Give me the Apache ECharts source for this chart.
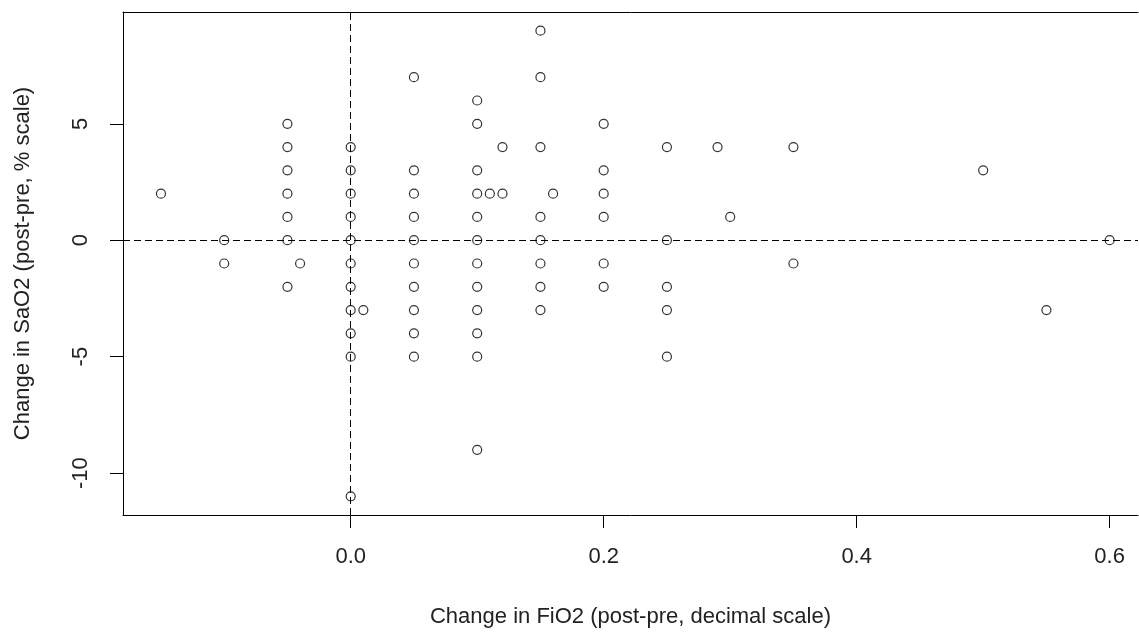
<!DOCTYPE html>
<html>
<head>
<meta charset="utf-8">
<script src="https://cdn.jsdelivr.net/npm/echarts@6/dist/echarts.min.js"></script>
<style>
html,body{margin:0;padding:0;background:#fff;}
#chart{width:1139px;height:634px;}
</style>
</head>
<body>
<div id="chart"></div>
<script>
// Change in FiO2 (post - pre, decimal scale)
const fio2Change = [
  -0.15,
  -0.1, -0.1,
  -0.05, -0.05, -0.05, -0.05, -0.05, -0.05, -0.05,
  -0.04,
  0, 0, 0, 0, 0, 0, 0, 0, 0, 0, 0,
  0.01,
  0.05, 0.05, 0.05, 0.05, 0.05, 0.05, 0.05, 0.05, 0.05, 0.05,
  0.1, 0.1, 0.1, 0.1, 0.1, 0.1, 0.1, 0.1, 0.1, 0.1, 0.1, 0.1,
  0.11,
  0.12, 0.12,
  0.15, 0.15, 0.15, 0.15, 0.15, 0.15, 0.15, 0.15,
  0.16,
  0.2, 0.2, 0.2, 0.2, 0.2, 0.2,
  0.25, 0.25, 0.25, 0.25, 0.25,
  0.29,
  0.3,
  0.35, 0.35,
  0.5,
  0.55,
  0.6
];
// Change in SaO2 (post - pre, % scale)
const sao2Change = [
  2,
  0, -1,
  5, 4, 3, 2, 1, 0, -2,
  -1,
  4, 3, 2, 1, 0, -1, -2, -3, -4, -5, -11,
  -3,
  7, 3, 2, 1, 0, -1, -2, -3, -4, -5,
  6, 5, 3, 2, 1, 0, -1, -2, -3, -4, -5, -9,
  2,
  4, 2,
  9, 7, 4, 1, 0, -1, -2, -3,
  2,
  5, 3, 2, 1, -1, -2,
  4, 0, -2, -3, -5,
  4,
  1,
  4, -1,
  3,
  -3,
  0
];
const xTicks = [0.0, 0.2, 0.4, 0.6];
const yTicks = [-10, -5, 0, 5];
const xTitle = 'Change in FiO2 (post-pre, decimal scale)';
const yTitle = 'Change in SaO2 (post-pre, % scale)';

const points = fio2Change.map((x, i) => [x, sao2Change[i]]);
const FONT = 'Liberation Sans, Arial, sans-serif';
const TXT = '#222';
const FS = 22;
const X_MIN = -0.18, X_MAX = 0.6224;

const chart = echarts.init(document.getElementById('chart'), null, {renderer: 'canvas'});
chart.setOption({
  animation: false,
  backgroundColor: '#fff',
  grid: {left: 123, right: 1, top: 12, bottom: 119, show: false},
  xAxis: [{
    type: 'value', min: X_MIN, max: X_MAX, position: 'bottom',
    name: xTitle, nameLocation: 'middle', nameGap: 91,
    nameTextStyle: {fontFamily: FONT, fontSize: FS, color: TXT},
    axisLine: {show: true, onZero: false, lineStyle: {color: '#000', width: 1}},
    axisTick: {show: true, length: 13, customValues: xTicks, lineStyle: {color: '#000', width: 1}},
    axisLabel: {show: true, customValues: xTicks, margin: 31,
      fontFamily: FONT, fontSize: FS, color: TXT,
      formatter: v => Number(v).toFixed(1)},
    splitLine: {show: false}
  }, {
    type: 'value', min: X_MIN, max: X_MAX, position: 'top',
    axisLine: {show: true, onZero: false, lineStyle: {color: '#000', width: 1}},
    axisTick: {show: false}, axisLabel: {show: false}, splitLine: {show: false}
  }],
  yAxis: {
    type: 'value', min: -11.8, max: 9.8,
    name: yTitle, nameLocation: 'middle', nameGap: 89, nameRotate: 90,
    nameTextStyle: {fontFamily: FONT, fontSize: FS, color: TXT},
    axisLine: {show: true, onZero: false, lineStyle: {color: '#000', width: 1}},
    axisTick: {show: true, length: 13, customValues: yTicks, lineStyle: {color: '#000', width: 1}},
    axisLabel: {show: true, customValues: yTicks, margin: 31, rotate: 90,
      fontFamily: FONT, fontSize: FS, color: TXT},
    splitLine: {show: false}
  },
  series: [{
    type: 'scatter',
    xAxisIndex: 0,
    data: points,
    symbol: 'circle',
    symbolSize: 9,
    itemStyle: {color: '#fff', borderColor: '#000', borderWidth: 1.2},
    markLine: {
      silent: true,
      symbol: ['none', 'none'],
      label: {show: false},
      lineStyle: {color: '#000', width: 1, type: [7, 4]},
      data: [{xAxis: 0}, {yAxis: 0}]
    },
    z: 3
  }]
});
</script>
</body>
</html>
